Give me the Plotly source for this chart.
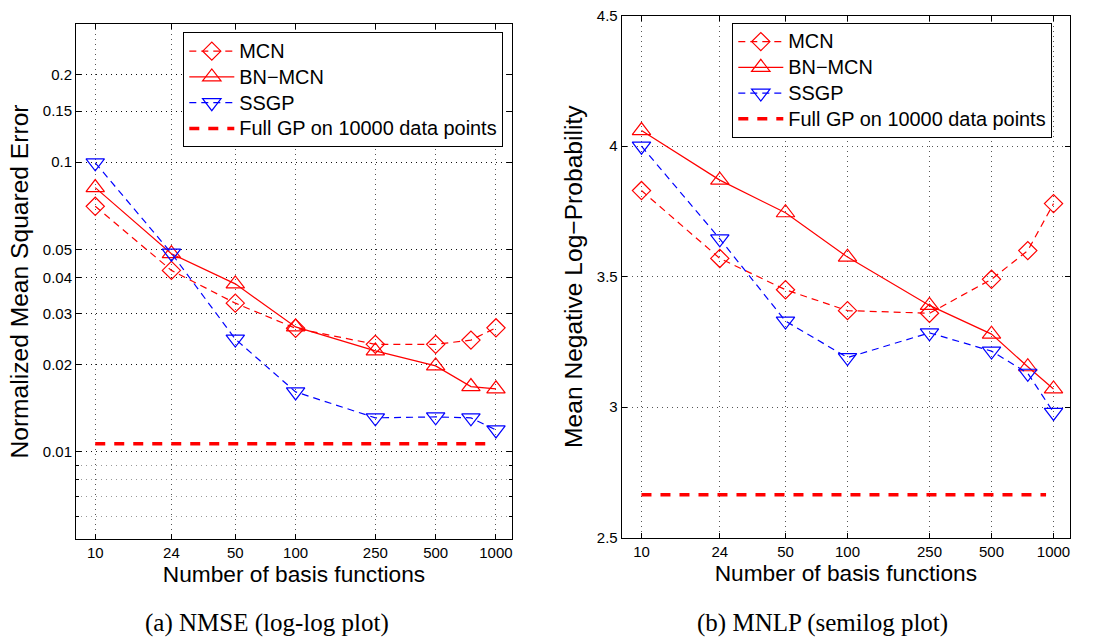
import plotly.graph_objects as go

# ---- data ----
n_basis = [10, 24, 50, 100, 250, 500, 750, 1000]
nmse_mcn = [0.0704, 0.0423, 0.0326, 0.0267, 0.0235, 0.0235, 0.0243, 0.0268]
nmse_bnmcn = [0.0817, 0.0483, 0.0380, 0.0270, 0.0223, 0.0198, 0.0168, 0.0165]
nmse_ssgp = [0.0995, 0.0485, 0.0245, 0.0161, 0.0131, 0.0132, 0.0131, 0.0119]
mnlp_mcn = [3.83, 3.57, 3.45, 3.37, 3.36, 3.49, 3.60, 3.78]
mnlp_bnmcn = [4.06, 3.87, 3.745, 3.575, 3.39, 3.28, 3.155, 3.07]
mnlp_ssgp = [4.00, 3.645, 3.33, 3.19, 3.285, 3.215, 3.13, 2.98]
fullgp_x = [10, 920]
nmse_fullgp = [0.01066, 0.01066]
mnlp_fullgp = [2.665, 2.665]

x_tickvals = [10, 24, 50, 100, 250, 500, 1000]
x_ticktext = ["10", "24", "50", "100", "250", "500", "1000"]
nmse_tickvals = [0.01, 0.02, 0.03, 0.04, 0.05, 0.1, 0.15, 0.2]
nmse_ticktext = ["0.01", "0.02", "0.03", "0.04", "0.05", "0.1", "0.15", "0.2"]
nmse_minor = [0.006, 0.007, 0.008, 0.009]
mnlp_tickvals = [2.5, 3, 3.5, 4, 4.5]
mnlp_ticktext = ["2.5", "3", "3.5", "4", "4.5"]

series_names = ["MCN", "BN\u2212MCN", "SSGP", "Full GP on 10000 data points"]
captions = ["(a) NMSE (log-log plot)", "(b) MNLP (semilog plot)"]

RED = "#ff0000"
BLUE = "#0000ff"
W, H = 1093, 640
FONT = "Liberation Sans, Arial, Helvetica, sans-serif"


def lname(s):
    return '<span style="font-size:19.9px">' + s + "</span>"


fig = go.Figure()


def add_panel(xa, ya, legend, mcn, bn, ss, gp):
    fig.add_trace(go.Scatter(
        x=n_basis, y=mcn, name=lname(series_names[0]), mode="lines+markers",
        line=dict(color=RED, width=1.2, dash="7px,5px"),
        marker=dict(symbol="diamond-open", size=14, color=RED, line=dict(width=1.2, color=RED)),
        xaxis=xa, yaxis=ya, legend=legend))
    fig.add_trace(go.Scatter(
        x=n_basis, y=bn, name=lname(series_names[1]), mode="lines+markers",
        line=dict(color=RED, width=1.2),
        marker=dict(symbol="triangle-up-open", size=16, color=RED, line=dict(width=1.2, color=RED)),
        xaxis=xa, yaxis=ya, legend=legend))
    fig.add_trace(go.Scatter(
        x=n_basis, y=ss, name=lname(series_names[2]), mode="lines+markers",
        line=dict(color=BLUE, width=1.2, dash="7px,5px"),
        marker=dict(symbol="triangle-down-open", size=16, color=BLUE, line=dict(width=1.2, color=BLUE)),
        xaxis=xa, yaxis=ya, legend=legend))
    fig.add_trace(go.Scatter(
        x=fullgp_x, y=gp, name=lname(series_names[3]), mode="lines",
        line=dict(color=RED, width=3.5, dash="10px,9px"),
        xaxis=xa, yaxis=ya, legend=legend))


add_panel("x", "y", "legend", nmse_mcn, nmse_bnmcn, nmse_ssgp, nmse_fullgp)
add_panel("x2", "y2", "legend2", mnlp_mcn, mnlp_bnmcn, mnlp_ssgp, mnlp_fullgp)

tickfont = dict(family=FONT, size=15, color="black")
xtitlefont = dict(family=FONT, size=22.7, color="black")
ytitlefont = dict(family=FONT, size=24.6, color="black")

common_x = dict(
    type="log", range=[0.904, 3.08], tickmode="array", tickvals=x_tickvals, ticktext=x_ticktext,
    showline=True, linecolor="black", linewidth=1, mirror="ticks",
    ticks="inside", ticklen=5, tickcolor="black", tickfont=tickfont,
    showgrid=True, gridcolor="#555555", griddash="1px,4px", gridwidth=1,
    zeroline=False, automargin=False,
    title=dict(text="Number of basis functions", font=xtitlefont, standoff=3),
)

legend_common = dict(
    xanchor="left", yanchor="top",
    bgcolor="white", bordercolor="black", borderwidth=1,
    font=dict(family=FONT, size=17.5, color="black"), itemwidth=45,
    tracegroupgap=0,
)

fig.update_layout(
    width=W, height=H, margin=dict(l=0, r=0, t=0, b=0),
    paper_bgcolor="white", plot_bgcolor="white",
    xaxis=dict(common_x, domain=[76 / W, 512 / W], anchor="y"),
    xaxis2=dict(common_x, domain=[621.7 / W, 1070 / W], anchor="y2"),
    yaxis=dict(
        type="log", range=[-2.301, -0.523], domain=[1 - 539 / H, 1 - 24 / H], anchor="x",
        tickmode="array", tickvals=nmse_tickvals, ticktext=nmse_ticktext,
        showline=True, linecolor="black", linewidth=1, mirror="ticks",
        ticks="inside", ticklen=5, tickcolor="black", tickfont=tickfont,
        showgrid=True, gridcolor="#111111", griddash="1px,4px", gridwidth=1,
        minor=dict(tickmode="array", tickvals=nmse_minor, ticks="inside", ticklen=3,
                   tickcolor="black", showgrid=True, gridcolor="#999999",
                   griddash="1px,4px", gridwidth=1),
        zeroline=False, automargin=False,
        title=dict(text="Normalized Mean Squared Error", font=ytitlefont, standoff=7),
    ),
    yaxis2=dict(
        range=[2.5, 4.5], domain=[1 - 537.7 / H, 1 - 15.7 / H], anchor="x2",
        tickmode="array", tickvals=mnlp_tickvals, ticktext=mnlp_ticktext,
        showline=True, linecolor="black", linewidth=1, mirror="ticks",
        ticks="inside", ticklen=5, tickcolor="black", tickfont=tickfont,
        showgrid=True, gridcolor="#555555", griddash="1px,4px", gridwidth=1,
        zeroline=False, automargin=False,
        title=dict(text="Mean Negative Log\u2212Probability", font=ytitlefont, standoff=7),
    ),
    legend=dict(legend_common, x=183.3 / W, y=1 - 32.3 / H),
    legend2=dict(legend_common, x=732.3 / W, y=1 - 22.7 / H),
    showlegend=True,
)

for cx, txt in zip([266.5 / W, 822.5 / W], captions):
    fig.add_annotation(
        x=cx, y=1 - 623 / H, xref="paper", yref="paper", text=txt, showarrow=False,
        xanchor="center", yanchor="middle",
        font=dict(family="Liberation Serif, Times New Roman, serif", size=25, color="black"),
    )

fig.write_html("out.html")
